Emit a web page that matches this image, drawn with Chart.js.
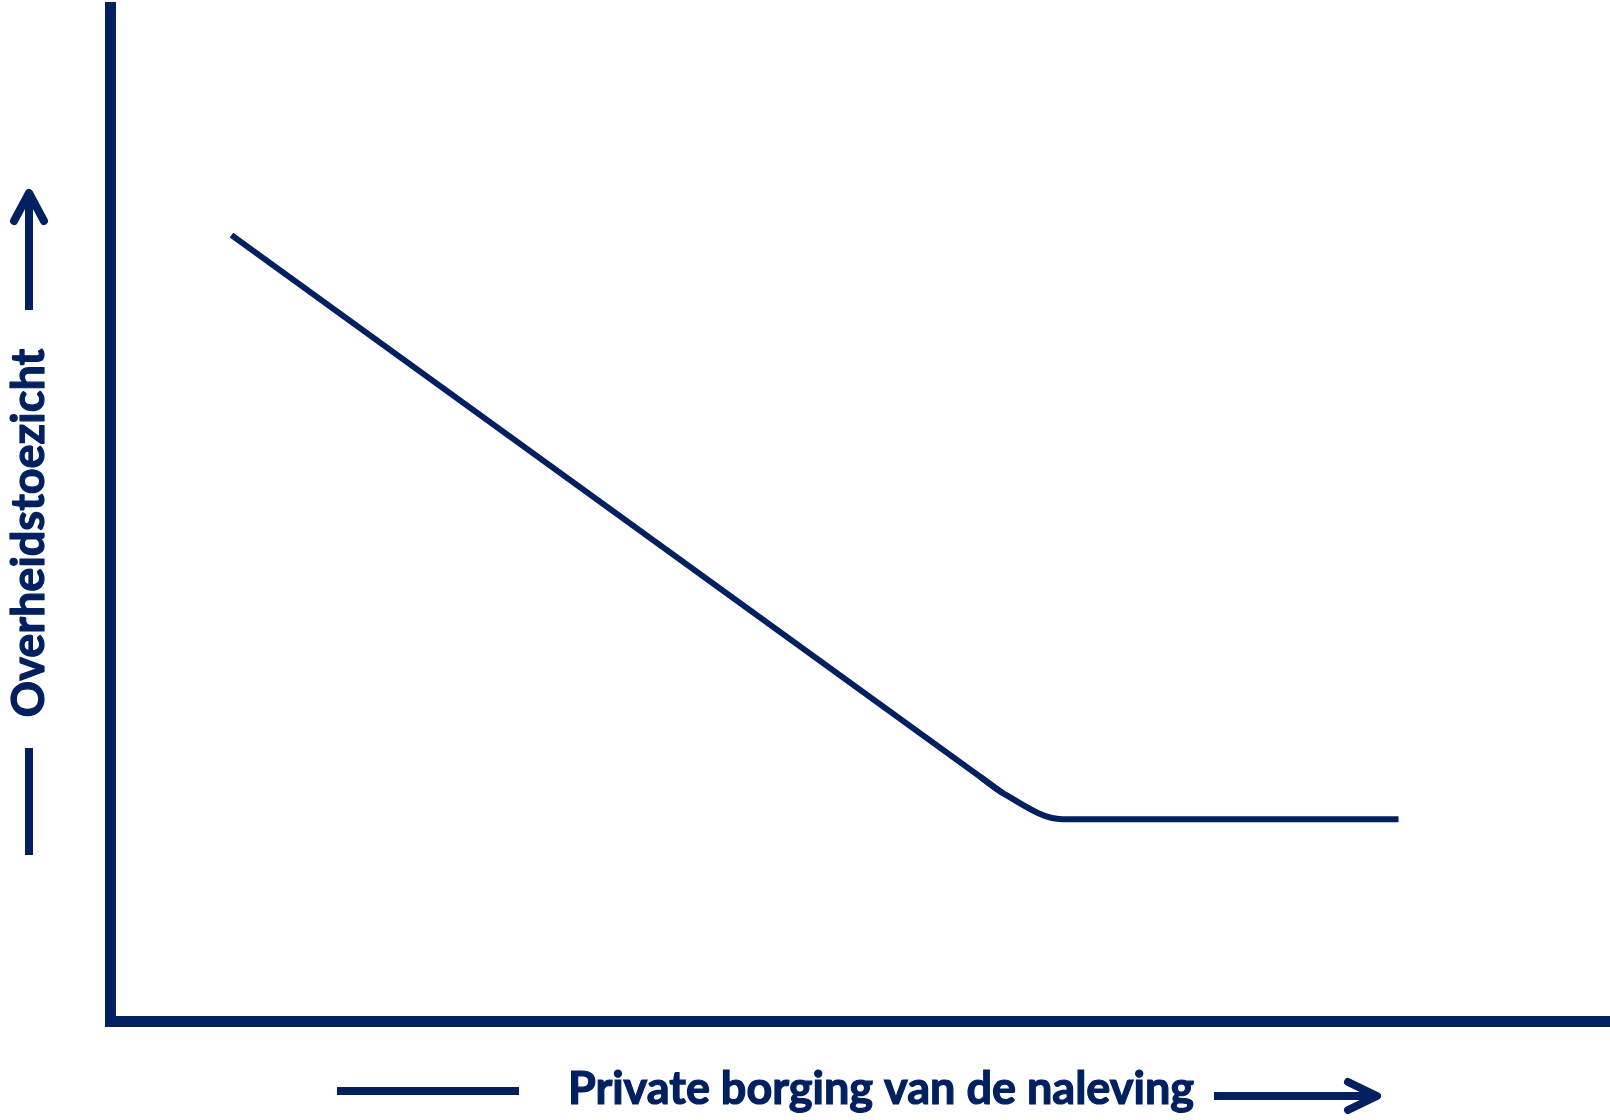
<!DOCTYPE html>
<html>
<head>
<meta charset="utf-8">
<script src="https://cdn.jsdelivr.net/npm/chart.js@4/dist/chart.umd.min.js"></script>
<style>
  html, body { margin: 0; padding: 0; background: #ffffff; }
  #chart { display: block; }
</style>
</head>
<body>
<canvas id="chart" width="1610" height="1120"></canvas>
<script>
// conceptual chart, axes 0..100 with no ticks
var slopeX = [ 8.1, 59.5 ];
var slopeY = [ 77.5, 22.5 ];
var floorX = [ 58.0, 59.5, 63.5, 85.9 ];
var floorY = [ 24.1, 22.5, 19.9, 19.9 ];
var xTitle = "Private borging van de naleving";
var yTitle = "Overheidstoezicht";

var navy = "#002060";
var titleFont = "bold 45px Lato";

function toPoints( xs, ys ) {
    return xs.map( function ( x, i ) { return { x: x, y: ys[ i ] }; } );
}

function heavyText( ctx, text, x, y ) {
    ctx.fillText( text, x, y );
    ctx.lineWidth = 1.2;
    ctx.strokeText( text, x, y );
}

// draws both axis titles plus the little line / arrow next to them
var axisDecor = {
    id: "axisDecor",
    afterDraw: function ( chart ) {
        var ctx = chart.ctx;
        var area = chart.chartArea;
        ctx.save();
        ctx.fillStyle = navy;
        ctx.strokeStyle = navy;
        ctx.font = titleFont;

        // x title
        var bx = area.bottom;
        ctx.textAlign = "center";
        ctx.textBaseline = "alphabetic";
        heavyText( ctx, xTitle, 881, bx + 83 );

        ctx.lineWidth = 8;
        ctx.lineCap = "butt";
        ctx.beginPath();
        ctx.moveTo( 337, bx + 70 );
        ctx.lineTo( 519, bx + 70 );
        ctx.stroke();

        ctx.beginPath();
        ctx.moveTo( 1214, bx + 75 );
        ctx.lineTo( 1374, bx + 75 );
        ctx.stroke();
        ctx.lineCap = "round";
        ctx.lineJoin = "round";
        ctx.beginPath();
        ctx.moveTo( 1348, bx + 61 );
        ctx.lineTo( 1377, bx + 75 );
        ctx.lineTo( 1348, bx + 89 );
        ctx.stroke();

        // y title
        ctx.save();
        ctx.translate( 44, 533 );
        ctx.rotate( -Math.PI / 2 );
        ctx.textAlign = "center";
        ctx.textBaseline = "alphabetic";
        heavyText( ctx, yTitle, 0, 0 );
        ctx.restore();

        ctx.lineWidth = 8;
        ctx.lineCap = "butt";
        ctx.beginPath();
        ctx.moveTo( 29, 748 );
        ctx.lineTo( 29, 855 );
        ctx.stroke();

        ctx.beginPath();
        ctx.moveTo( 29, 310 );
        ctx.lineTo( 29, 196 );
        ctx.stroke();
        ctx.lineCap = "round";
        ctx.beginPath();
        ctx.moveTo( 14, 221 );
        ctx.lineTo( 29, 193 );
        ctx.lineTo( 44, 221 );
        ctx.stroke();

        ctx.restore();
    }
};

function draw() {
    var context = document.getElementById( "chart" ).getContext( "2d" );
    new Chart( context, {
        type: "scatter",
        data: {
            datasets: [ {
                data: toPoints( slopeX, slopeY ),
                showLine: true,
                borderColor: navy,
                borderWidth: 6,
                tension: 0,
                pointRadius: 0
            }, {
                data: toPoints( floorX, floorY ),
                showLine: true,
                borderColor: navy,
                borderWidth: 6,
                cubicInterpolationMode: "monotone",
                pointRadius: 0
            } ]
        },
        options: {
            responsive: false,
            animation: false,
            devicePixelRatio: 1,
            layout: {
                padding: { left: 110, top: 7, right: 0, bottom: 99 }
            },
            plugins: {
                legend: { display: false },
                tooltip: { enabled: false }
            },
            scales: {
                x: {
                    min: 0,
                    max: 100,
                    ticks: { display: false },
                    grid: { display: false, drawTicks: false },
                    border: { display: true, color: navy, width: 11 }
                },
                y: {
                    min: 0,
                    max: 100,
                    ticks: { display: false },
                    grid: { display: false, drawTicks: false },
                    border: { display: true, color: navy, width: 11 }
                }
            }
        },
        plugins: [ axisDecor ]
    } );
}

if ( document.fonts && document.fonts.load ) {
    document.fonts.load( titleFont ).then( draw, draw );
} else {
    draw();
}
</script>
</body>
</html>
